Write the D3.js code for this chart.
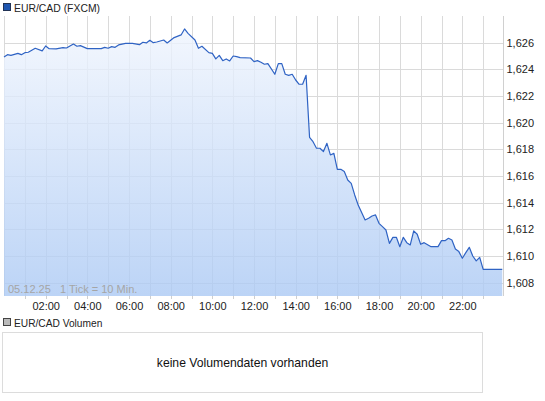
<!DOCTYPE html>
<html>
<head>
<meta charset="utf-8">
<script src="https://d3js.org/d3.v7.min.js"></script>
<style>
body { margin: 0; background: #fff; }
text { font-family: "Liberation Sans", Arial, sans-serif; }
.grid line { stroke: #dadada; shape-rendering: crispEdges; }
.axis text { font-size: 11px; fill: #222; }
.axis path { display: none; }
.axis line { stroke: #cfcfcf; shape-rendering: crispEdges; }
</style>
</head>
<body>
<svg id="chart" width="545" height="401"></svg>
<script>

// EUR/CAD 05.12.25, 10 minute ticks
var times = ["00:00","00:10","00:20","00:40","00:50","01:00","01:10","01:30","01:50","02:00",
  "02:10","02:30","02:50","03:00","03:20","03:30","03:40","04:00","04:40","04:50",
  "05:00","05:10","05:20","05:30","05:50","06:10","06:30","06:40","06:50","07:00",
  "07:10","07:20","07:40","07:50","08:10","08:30","08:40","08:50","09:10","09:20",
  "09:30","09:50","10:00","10:10","10:20","10:30","10:40","10:50","11:00","11:10",
  "11:20","11:50","12:00","12:10","12:20","12:30","12:40","13:00","13:10","13:20",
  "13:30","13:40","13:50","14:00","14:10","14:20","14:30","14:40","14:50","15:00",
  "15:10","15:20","15:30","15:40","15:50","16:00","16:10","16:20","16:30","16:40",
  "16:50","17:00","17:20","17:30","17:40","17:50","18:00","18:10","18:20","18:30",
  "18:40","18:50","19:00","19:10","19:20","19:30","19:40","19:50","20:00","20:10",
  "20:30","20:50","21:00","21:10","21:20","21:30","21:40","21:50","22:00","22:10",
  "22:20","22:30","22:40","22:50","23:00","23:55"];

var prices = [1.62493,1.6251,1.62505,1.6252,1.6251,1.62525,1.62528,1.62558,1.62538,1.62575,
  1.62555,1.62553,1.62563,1.6256,1.6259,1.62573,1.62578,1.62555,1.62555,1.62565,
  1.62558,1.6257,1.62565,1.62583,1.62595,1.62595,1.62585,1.62603,1.62598,1.62618,
  1.626,1.62605,1.6262,1.62598,1.62638,1.62658,1.62703,1.6267,1.6262,1.62558,
  1.62573,1.62525,1.6252,1.62478,1.62505,1.62465,1.62478,1.62463,1.625,1.62495,
  1.62488,1.62485,1.62458,1.62465,1.62453,1.62438,1.62443,1.62363,1.62443,1.62443,
  1.62363,1.62355,1.62363,1.6232,1.62288,1.62288,1.62355,1.6189,1.61857,1.61808,
  1.61808,1.61783,1.61845,1.61758,1.6177,1.6165,1.6165,1.61633,1.6157,1.61545,
  1.61458,1.61383,1.6127,1.61283,1.613,1.61308,1.61245,1.6122,1.61195,1.61095,
  1.6114,1.6114,1.6107,1.6114,1.611,1.61083,1.61188,1.61163,1.61088,1.611,
  1.6107,1.6107,1.61115,1.61115,1.61133,1.6112,1.61053,1.61033,1.60983,1.61025,
  1.61065,1.61,1.60963,1.6099,1.609,1.609];

var yTicks = [1.608, 1.610, 1.612, 1.614, 1.616, 1.618, 1.620, 1.622, 1.624, 1.626];
var xLabels = ["02:00","04:00","06:00","08:00","10:00","12:00","14:00","16:00","18:00","20:00","22:00"];

var day = "2025-12-05";
var parseTime = d3.timeParse("%Y-%m-%d %H:%M");

var data = times.map(function(t, i) {
  return { date: parseTime(day + " " + t), value: prices[i] };
});

var plot = { left: 4, right: 503.5, top: 16, bottom: 296 };

var x = d3.scaleTime()
    .domain([parseTime(day + " 00:00"), d3.timeDay.offset(parseTime(day + " 00:00"), 1)])
    .range([plot.left, 504]);

var y = d3.scaleLinear()
    .domain([1.607, 1.628])
    .range([plot.bottom, plot.top]);

var deLocale = d3.formatLocale({ decimal: ",", thousands: ".", grouping: [3], currency: ["", " €"] });
var fmtY = deLocale.format(".3f");

var svg = d3.select("#chart");

// legend header
svg.append("rect").attr("x", 3.5).attr("y", 3.5).attr("width", 7).attr("height", 7)
    .attr("fill", "#1f56b0").attr("stroke", "#223355");
svg.append("text").attr("x", 14).attr("y", 11.5)
    .style("font-size", "10.4px").attr("fill", "#222").text("EUR/CAD (FXCM)");

var defs = svg.append("defs");
var grad = defs.append("linearGradient")
    .attr("id", "areaGrad")
    .attr("gradientUnits", "userSpaceOnUse")
    .attr("x1", 0).attr("x2", 0).attr("y1", plot.top).attr("y2", plot.bottom);
grad.append("stop").attr("offset", "0%").attr("stop-color", "#f3f7fe").attr("stop-opacity", 0.8);
grad.append("stop").attr("offset", "100%").attr("stop-color", "#abc9f4").attr("stop-opacity", 0.8);

// grid
var hourTicks = d3.timeHour.range(x.domain()[0], x.domain()[1]);

svg.append("g").attr("class", "grid")
  .selectAll("line.v")
  .data(hourTicks)
  .enter().append("line")
    .attr("x1", function(d) { return Math.round(x(d)) + 0.5; })
    .attr("x2", function(d) { return Math.round(x(d)) + 0.5; })
    .attr("y1", plot.top)
    .attr("y2", plot.bottom);

svg.append("g").attr("class", "grid")
  .selectAll("line.h")
  .data(yTicks)
  .enter().append("line")
    .attr("x1", plot.left)
    .attr("x2", plot.right)
    .attr("y1", function(d) { return Math.round(y(d)) + 0.5; })
    .attr("y2", function(d) { return Math.round(y(d)) + 0.5; });

// right border
svg.append("line")
    .attr("x1", plot.right).attr("x2", plot.right)
    .attr("y1", plot.top).attr("y2", plot.bottom)
    .attr("stroke", "#d0d0d0").style("shape-rendering", "crispEdges");

// area + line
var area = d3.area()
    .x(function(d) { return x(d.date); })
    .y0(plot.bottom)
    .y1(function(d) { return y(d.value); });

var line = d3.line()
    .x(function(d) { return x(d.date); })
    .y(function(d) { return y(d.value); });

svg.append("path")
    .datum(data)
    .attr("d", area)
    .attr("fill", "url(#areaGrad)")
    .attr("stroke", "none");

svg.append("path")
    .datum(data)
    .attr("d", line)
    .attr("fill", "none")
    .attr("stroke", "#2f63c4")
    .attr("stroke-width", 1.2)
    .attr("stroke-linejoin", "round");

// info text
svg.append("text")
    .attr("x", 8).attr("y", 293)
    .attr("xml:space", "preserve")
    .style("white-space", "pre")
    .style("font-size", "11px")
    .attr("fill", "#a5a5a5")
    .text("05.12.25   1 Tick = 10 Min.");

// x axis
var xAxis = d3.axisBottom(x)
    .tickValues(hourTicks.slice(1))
    .tickSize(3)
    .tickPadding(3)
    .tickFormat(function(d) {
      var s = d3.timeFormat("%H:%M")(d);
      return xLabels.indexOf(s) >= 0 ? s : "";
    });

svg.append("g")
    .attr("class", "axis")
    .attr("transform", "translate(0," + plot.bottom + ")")
    .call(xAxis);

// y axis
var yAxis = d3.axisRight(y)
    .tickValues(yTicks)
    .tickSize(0)
    .tickPadding(3)
    .tickFormat(fmtY);

svg.append("g")
    .attr("class", "axis")
    .attr("transform", "translate(" + plot.right + ",0)")
    .call(yAxis);

// volume panel
svg.append("rect").attr("x", 3.5).attr("y", 318.5).attr("width", 7).attr("height", 7)
    .attr("fill", "#bbbbbb").attr("stroke", "#444");
svg.append("text").attr("x", 14).attr("y", 326.5)
    .style("font-size", "10.2px").attr("fill", "#222").text("EUR/CAD Volumen");

svg.append("rect")
    .attr("x", 2.5).attr("y", 332.5).attr("width", 480).attr("height", 60)
    .attr("fill", "#fff").attr("stroke", "#dcdcdc");

svg.append("text")
    .attr("x", 242.5).attr("y", 367)
    .attr("text-anchor", "middle")
    .style("font-size", "12.2px")
    .attr("fill", "#111")
    .text("keine Volumendaten vorhanden");

</script>
</body>
</html>
